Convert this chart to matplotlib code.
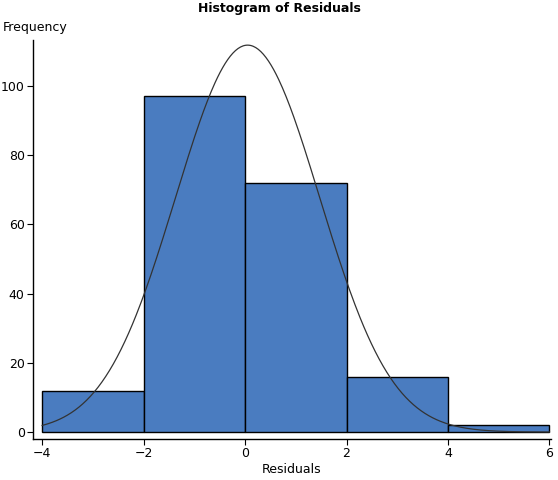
import numpy as np
from matplotlib import pyplot as plt

# histogram of residuals, bin edges and counts
bin_edges = [-4, -2, 0, 2, 4, 6]
counts = [12, 97, 72, 16, 2]

# normal curve drawn over it (fitted mean / sd of the residuals)
fit_mean = 0.05
fit_sd = 1.42
n_obs = sum(counts)

fig = plt.figure(figsize=(5.58, 4.8), dpi=100)
ax = fig.add_axes([33/558, 41/480, (551-33)/558, (439-40)/480])

widths = np.diff(bin_edges)
ax.bar(bin_edges[:-1], counts, width=widths, align="edge",
       color="#4a7cc0", edgecolor="black", linewidth=1.0)

xs = np.linspace(-4, 6, 400)
bw = widths[0]
dens = n_obs * bw / (np.sqrt(2*np.pi) * fit_sd) * np.exp(-0.5*((xs - fit_mean)/fit_sd)**2)
ax.plot(xs, dens, color="#333333", linewidth=0.9)

ax.set_xlim(-4.18, 6.03)
ax.set_ylim(-2.0, 113.3)
ax.set_xticks([-4, -2, 0, 2, 4, 6])
ax.set_xticklabels(["\u22124", "\u22122", "0", "2", "4", "6"])
ax.set_yticks([0, 20, 40, 60, 80, 100])
ax.tick_params(labelsize=9, length=4, width=0.8, direction="out", pad=2)
for s in ["top", "right"]:
    ax.spines[s].set_visible(False)
ax.spines["left"].set_linewidth(1.0)
ax.spines["bottom"].set_linewidth(1.0)

ax.set_xlabel("Residuals", fontsize=9, labelpad=2)
fig.text(3/558, 1 - 28/480, "Frequency", fontsize=9, ha="left", va="center")
fig.text(0.5, 1 - 8.5/480, "Histogram of Residuals", fontsize=9, fontweight="bold",
         ha="center", va="center")

plt.savefig("out.png", dpi=100)
